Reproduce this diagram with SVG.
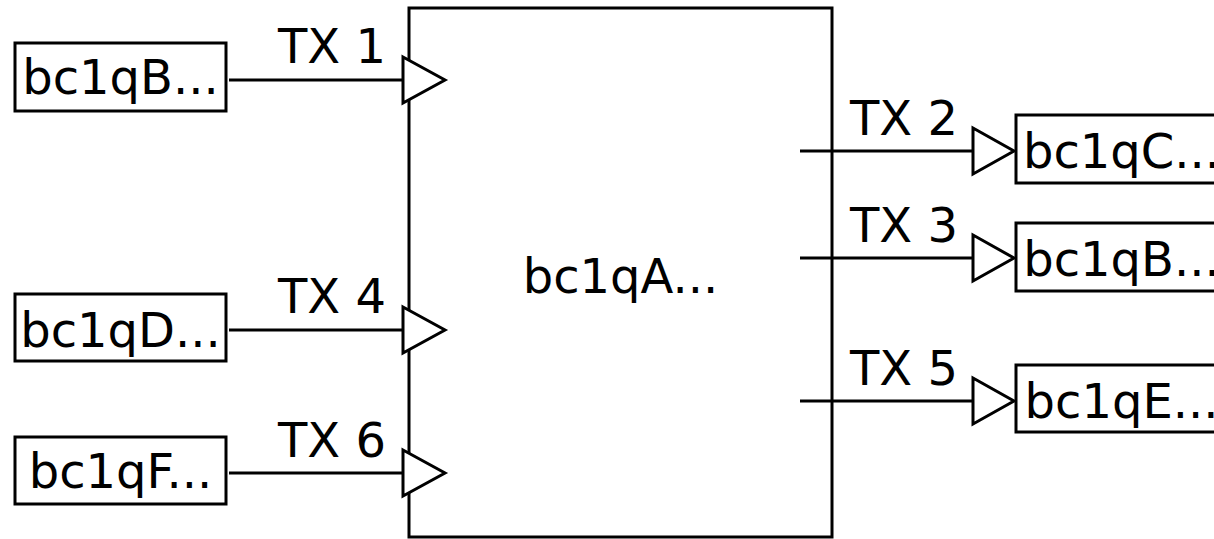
<svg xmlns="http://www.w3.org/2000/svg" width="1214" height="539" viewBox="0 0 1214 539">
<style>
.box{fill:#fff;stroke:#000;stroke-width:3}
.t{font-family:"DejaVu Sans",sans-serif;font-size:48px;fill:#000}
.c{text-anchor:middle}
.ln{stroke:#000;stroke-width:3;fill:none}
.ar{fill:#fff;stroke:#000;stroke-width:3;stroke-linejoin:miter}
</style>
<rect width="1214" height="539" fill="#fff"/>
<g id="nodeA">
<rect class="box" x="409" y="8" width="423" height="529"/>
<text class="t c" x="620.5" y="293">bc1qA...</text>
</g>
<g id="nodeB1">
<rect class="box" x="15" y="43" width="211" height="68"/>
<text class="t c" x="120.5" y="94">bc1qB...</text>
</g>
<g id="nodeD">
<rect class="box" x="15" y="294" width="211" height="67"/>
<text class="t c" x="120.5" y="347">bc1qD...</text>
</g>
<g id="nodeF">
<rect class="box" x="15" y="437" width="211" height="67"/>
<text class="t c" x="120.5" y="488">bc1qF...</text>
</g>
<g id="nodeC">
<rect class="box" x="1016" y="115" width="211" height="68"/>
<text class="t c" x="1121.5" y="168">bc1qC...</text>
</g>
<g id="nodeB2">
<rect class="box" x="1016" y="223" width="211" height="68"/>
<text class="t c" x="1121.5" y="276">bc1qB...</text>
</g>
<g id="nodeE">
<rect class="box" x="1016" y="365" width="211" height="67"/>
<text class="t c" x="1121.5" y="418">bc1qE...</text>
</g>
<g id="connectors">
<path class="ln" d="M229,80 H403"/>
<path class="ar" d="M403,57 L445,80 L403,103 Z"/>
<text class="t" x="278" y="63">TX 1</text>
<path class="ln" d="M229,330 H403"/>
<path class="ar" d="M403,307 L445,330 L403,353 Z"/>
<text class="t" x="278" y="313">TX 4</text>
<path class="ln" d="M229,473 H403"/>
<path class="ar" d="M403,450 L445,473 L403,496 Z"/>
<text class="t" x="278" y="457">TX 6</text>
<path class="ln" d="M800,151 H973"/>
<path class="ar" d="M973,128 L1014,151 L973,174 Z"/>
<text class="t" x="850" y="135">TX 2</text>
<path class="ln" d="M800,258 H973"/>
<path class="ar" d="M973,235 L1014,258 L973,281 Z"/>
<text class="t" x="850" y="242">TX 3</text>
<path class="ln" d="M800,401 H973"/>
<path class="ar" d="M973,378 L1014,401 L973,424 Z"/>
<text class="t" x="850" y="385">TX 5</text>
</g>
</svg>
